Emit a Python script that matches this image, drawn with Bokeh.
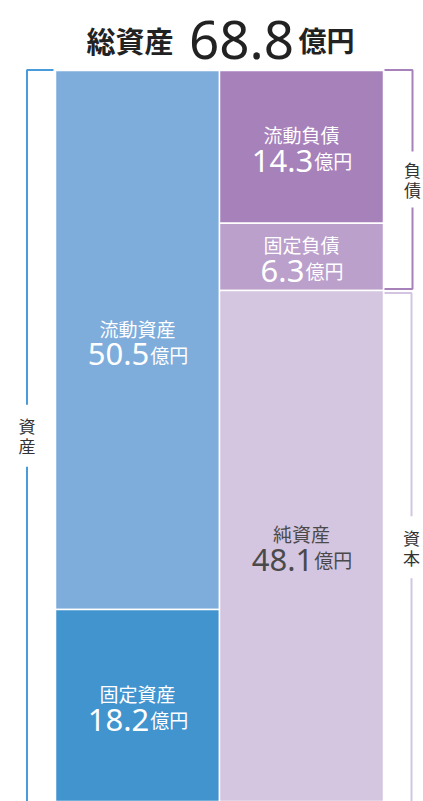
from bokeh.plotting import figure
from bokeh.models import Range1d
from bokeh.embed import file_html
from bokeh.resources import INLINE
from bokeh.core.properties import value
import numpy as np

# ---------------- data ----------------
title_text = "総資産"
total_value = "68.8"
unit = "億円"
asset_labels = ["流動資産", "固定資産"]
asset_values = [50.5, 18.2]
right_labels = ["流動負債", "固定負債", "純資産"]
right_values = [14.3, 6.3, 48.1]
bracket_labels = ["資産", "負債", "資本"]

# ---------------- styles ----------------
asset_colors = ["#7eaddb", "#4294cf"]
right_colors = ["#a781ba", "#bba0cc", "#d4c5e0"]
asset_text_colors = ["white", "white"]
right_text_colors = ["white", "white", "#4a4a4a"]
BLUE = "#4a9bd9"
PURPLE = "#a781ba"
LIGHT = "#d3c5e1"
CJK = value("Noto Sans CJK JP")
NUM = value("Noto Sans")

W, H = 423, 801
K = 10.673          # px per unit
BOT = 803.3         # pixel of value 0


def v(py):
    return (BOT - py) / K


def dv(dpx):
    return dpx / K


p = figure(width=W, height=H, x_range=Range1d(0, W), y_range=Range1d(v(H), v(0)),
           output_backend="svg", toolbar_location=None, min_border=0,
           x_axis_type=None, y_axis_type=None)
p.grid.visible = False
p.outline_line_color = None
p.background_fill_color = "white"
p.border_fill_color = "white"

LEFT_CX, RIGHT_CX, BAR_W = 137, 301, 164
ymin = v(H)


def draw_column(cx, labels, values, colors, tcolors):
    vals = np.array(values)
    # stacked from top down: first item on top
    tops = np.cumsum(vals[::-1])[::-1]
    bottoms = tops - vals
    p.vbar(x=[cx] * len(vals), width=BAR_W, top=tops, bottom=bottoms,
           fill_color=colors, line_color="white", line_width=1.5)
    for lab, val, t, b, tc in zip(labels, values, tops, bottoms, tcolors):
        c = (t + max(b, ymin)) / 2
        p.text(x=[cx], y=[c + dv(12)], text=[lab], text_font=CJK, text_font_size="19px",
               text_color=tc, text_align="center", text_baseline="middle")
        num = f"{val:.1f}"
        fs_n, fs_u = 31, 19
        num_w = sum(0.268 * fs_n if ch == "." else 0.572 * fs_n for ch in num)
        unit_w = 2 * fs_u
        split = cx + (num_w - unit_w) / 2
        p.text(x=[split], y=[c - dv(14)], text=[num], text_font=NUM, text_font_size=f"{fs_n}px",
               text_color=tc, text_align="right", text_baseline="alphabetic")
        p.text(x=[split + 1], y=[c - dv(14)], text=[unit], text_font=CJK, text_font_size=f"{fs_u}px",
               text_color=tc, text_align="left", text_baseline="alphabetic")
    return tops


lt = draw_column(LEFT_CX, asset_labels, asset_values, asset_colors, asset_text_colors)
rt = draw_column(RIGHT_CX, right_labels, right_values, right_colors, right_text_colors)

top = lt[0]
liab_bottom = rt[1] - right_values[1]

# ---------------- title ----------------
ty = v(39)
p.text(x=[173], y=[ty], text=[title_text], text_font=CJK, text_font_size="29px",
       text_font_style="bold", text_color="#222222", text_align="right", text_baseline="alphabetic")
p.text(x=[241], y=[ty], text=[total_value], text_font=NUM, text_font_size="53px",
       text_font_style="normal", text_color="#222222", text_align="center", text_baseline="alphabetic")
p.text(x=[298], y=[ty], text=[unit], text_font=CJK, text_font_size="28px",
       text_font_style="bold", text_color="#222222", text_align="left", text_baseline="alphabetic")

# ---------------- brackets ----------------
GAP = dv(31)
yl_top = top + dv(0.5)
# 資産
lx = 26.5
c_asset = (yl_top + ymin) / 2
p.multi_line(xs=[[53, lx, lx], [lx, lx]],
             ys=[[yl_top, yl_top, c_asset + GAP], [c_asset - GAP, ymin - 1]],
             line_color=BLUE, line_width=2)
# 負債
rx = 412
yb = liab_bottom + dv(1.5)
c_liab = (yl_top + yb) / 2
p.multi_line(xs=[[384, rx, rx], [rx, rx, 384]],
             ys=[[yl_top, yl_top, c_liab + dv(28)], [c_liab - dv(28), yb, yb]],
             line_color=PURPLE, line_width=2)
# 資本
rx2 = 411
ye = liab_bottom - dv(2.5)
c_eq = (ye + ymin) / 2
p.multi_line(xs=[[384, rx2, rx2], [rx2, rx2]],
             ys=[[ye, ye, c_eq + GAP], [c_eq - GAP, ymin - 1]],
             line_color=LIGHT, line_width=2)

for x, y, lab in zip([lx, rx, rx2], [c_asset, c_liab, c_eq], bracket_labels):
    p.text(x=[x], y=[y], text=["\n".join(lab)], text_font=CJK, text_font_size="17px",
           text_color="#333333", text_align="center", text_baseline="middle",
           text_line_height=0.8)

open("out.html", "w").write(file_html(p, INLINE))
